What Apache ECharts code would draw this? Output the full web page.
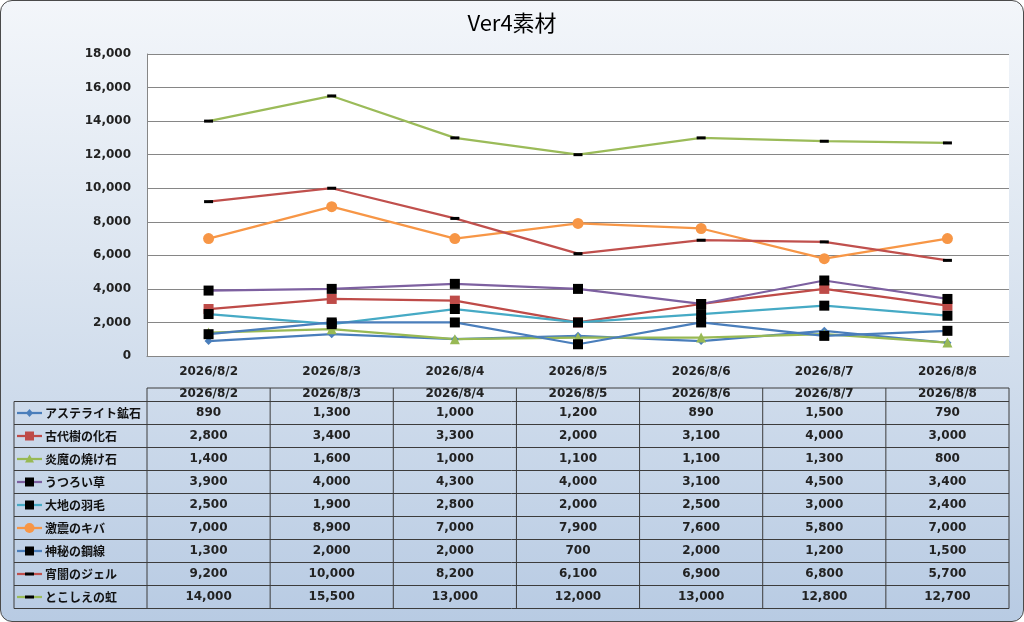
<!DOCTYPE html>
<html>
<head>
<meta charset="utf-8">
<script src="https://cdn.jsdelivr.net/npm/echarts@6/dist/echarts.min.js"></script>
<style>
  html, body { margin: 0; padding: 0; background: #fff; }
  #wrap { position: relative; width: 1024px; height: 622px; }
  #frame {
    position: absolute; left: 0; top: 0; width: 1024px; height: 622px;
    box-sizing: border-box; border: 1.5px solid #4a4a4a; border-radius: 12px;
    background: linear-gradient(#f3f6fa, #dde6f1 40%, #b8cbe3);
  }
  #main { position: absolute; left: 0; top: 0; width: 1024px; height: 622px; }
</style>
</head>
<body>
<div id="wrap"><div id="frame"></div><div id="main"></div></div>
<script>
// データ
const dates = ["2026/8/2", "2026/8/3", "2026/8/4", "2026/8/5", "2026/8/6", "2026/8/7", "2026/8/8"];
const names = ["アステライト鉱石", "古代樹の化石", "炎魔の焼け石", "うつろい草", "大地の羽毛",
               "激震のキバ", "神秘の鋼線", "宵闇のジェル", "とこしえの虹"];
const yTicks = [0, 2000, 4000, 6000, 8000, 10000, 12000, 14000, 16000, 18000];

const asteraite = [890, 1300, 1000, 1200, 890, 1500, 790];
const kodaiju   = [2800, 3400, 3300, 2000, 3100, 4000, 3000];
const enma      = [1400, 1600, 1000, 1100, 1100, 1300, 800];
const utsuroi   = [3900, 4000, 4300, 4000, 3100, 4500, 3400];
const daichi    = [2500, 1900, 2800, 2000, 2500, 3000, 2400];
const gekishin  = [7000, 8900, 7000, 7900, 7600, 5800, 7000];
const shinpi    = [1300, 2000, 2000, 700, 2000, 1200, 1500];
const yoiyami   = [9200, 10000, 8200, 6100, 6900, 6800, 5700];
const tokoshie  = [14000, 15500, 13000, 12000, 13000, 12800, 12700];
const values = [asteraite, kodaiju, enma, utsuroi, daichi, gekishin, shinpi, yoiyami, tokoshie];

// 見た目
const lineColors = ["#4a7ebb", "#be4b48", "#98b954", "#7d60a0", "#46aac5", "#f79646", "#4a7ebb", "#c0504d", "#9bbb59"];
const markColors = ["#4a7ebb", "#be4b48", "#98b954", "#000", "#000", "#f79646", "#000", "#000", "#000"];
const symbols    = ["diamond", "rect", "triangle", "rect", "rect", "circle", "rect", "dash", "dash"];
const symSizes   = [8, 10, 10, 10, 10, 11, 10, [9, 3], [9, 3]];

const numFont = "DejaVu Sans";
const jpFont = "Noto Sans CJK JP";
const fmt = v => v.toLocaleString("en-US");

let myChart = echarts.init(document.getElementById("main"));

let option = {
  backgroundColor: "transparent",
  animation: false,
  title: {
    text: "Ver4素材",
    left: "center",
    top: 7,
    textStyle: { fontFamily: jpFont, fontSize: 22, fontWeight: "normal", color: "#000" }
  },
  grid: {
    left: 147, right: 15, top: 54, bottom: 266,
    show: true, backgroundColor: "#fff", borderWidth: 0
  },
  xAxis: {
    type: "category",
    data: dates,
    boundaryGap: true,
    axisTick: { show: false },
    axisLine: { lineStyle: { color: "#868686", width: 1 } },
    axisLabel: { margin: 10, fontFamily: numFont, fontSize: 12, fontWeight: "bold", color: "#222" }
  },
  yAxis: {
    type: "value",
    min: yTicks[0],
    max: yTicks[yTicks.length - 1],
    interval: yTicks[1] - yTicks[0],
    axisLine: { show: true, lineStyle: { color: "#868686", width: 1 } },
    axisTick: { show: false },
    splitLine: { lineStyle: { color: "#868686", width: 1 } },
    axisLabel: { margin: 16, fontFamily: numFont, fontSize: 12, fontWeight: "bold", color: "#222", formatter: fmt }
  },
  series: names.map((n, i) => ({
    name: n,
    type: "line",
    data: values[i],
    symbol: symbols[i] === "dash" ? "rect" : symbols[i],
    symbolSize: symSizes[i],
    showAllSymbol: true,
    lineStyle: { color: lineColors[i], width: 2.25 },
    itemStyle: { color: markColors[i], borderWidth: 0 },
    color: lineColors[i]
  }))
};

myChart.setOption(option);

// 凡例キーの記号
function keyMarker(kind, cx, cy, color) {
  if (kind === "diamond") {
    return { type: "polygon", shape: { points: [[cx, cy - 4], [cx + 3.5, cy], [cx, cy + 4], [cx - 3.5, cy]] }, style: { fill: color } };
  }
  if (kind === "triangle") {
    return { type: "polygon", shape: { points: [[cx, cy - 4.5], [cx + 4.5, cy + 3.5], [cx - 4.5, cy + 3.5]] }, style: { fill: color } };
  }
  if (kind === "circle") {
    return { type: "circle", shape: { cx: cx, cy: cy, r: 5 }, style: { fill: color } };
  }
  if (kind === "dash") {
    return { type: "rect", shape: { x: cx - 4.5, y: cy - 1.5, width: 9, height: 3 }, style: { fill: color } };
  }
  return { type: "rect", shape: { x: cx - 4.5, y: cy - 4.5, width: 9, height: 9 }, style: { fill: color } };
}

// データテーブル
function buildTable() {
  const xs = dates.map(d => myChart.convertToPixel({ xAxisIndex: 0 }, d));
  const band = xs[1] - xs[0];
  const colLeft = xs[0] - band / 2;
  const colRight = xs[xs.length - 1] + band / 2;
  const tableLeft = 14;
  const headTop = 388;
  const rowTop = 401.5;
  const rowH = 23;
  const tableBottom = rowTop + rowH * names.length;
  const stroke = { stroke: "#3c3c3c", lineWidth: 1 };
  const els = [];

  // 横線
  els.push({ type: "line", shape: { x1: colLeft, y1: headTop, x2: colRight, y2: headTop }, style: stroke });
  for (let r = 0; r <= names.length; r++) {
    const y = rowTop + r * rowH;
    els.push({ type: "line", shape: { x1: tableLeft, y1: y, x2: colRight, y2: y }, style: stroke });
  }
  // 縦線
  els.push({ type: "line", shape: { x1: tableLeft, y1: rowTop, x2: tableLeft, y2: tableBottom }, style: stroke });
  for (let c = 0; c <= dates.length; c++) {
    const x = colLeft + c * band;
    els.push({ type: "line", shape: { x1: x, y1: headTop, x2: x, y2: tableBottom }, style: stroke });
  }
  // 見出し
  dates.forEach((d, c) => {
    els.push({ type: "text", style: { text: d, x: xs[c], y: headTop + 5.5, align: "center", verticalAlign: "middle",
      fill: "#222", font: "bold 12px " + numFont } });
  });
  // 凡例と値
  names.forEach((n, r) => {
    const cy = rowTop + r * rowH + rowH / 2;
    els.push({ type: "line", shape: { x1: 17, y1: cy, x2: 42, y2: cy }, style: { stroke: lineColors[r], lineWidth: 2.25 } });
    els.push(keyMarker(symbols[r], 29.5, cy, markColors[r]));
    els.push({ type: "text", style: { text: n, x: 45, y: cy, align: "left", verticalAlign: "middle",
      fill: "#111", font: "bold 12px '" + jpFont + "'" } });
    values[r].forEach((v, c) => {
      els.push({ type: "text", style: { text: fmt(v), x: xs[c], y: cy,
        align: "center", verticalAlign: "middle", fill: "#222", font: "bold 12px " + numFont } });
    });
  });
  myChart.setOption({ graphic: { elements: els } });
}
buildTable();
</script>
</body>
</html>
